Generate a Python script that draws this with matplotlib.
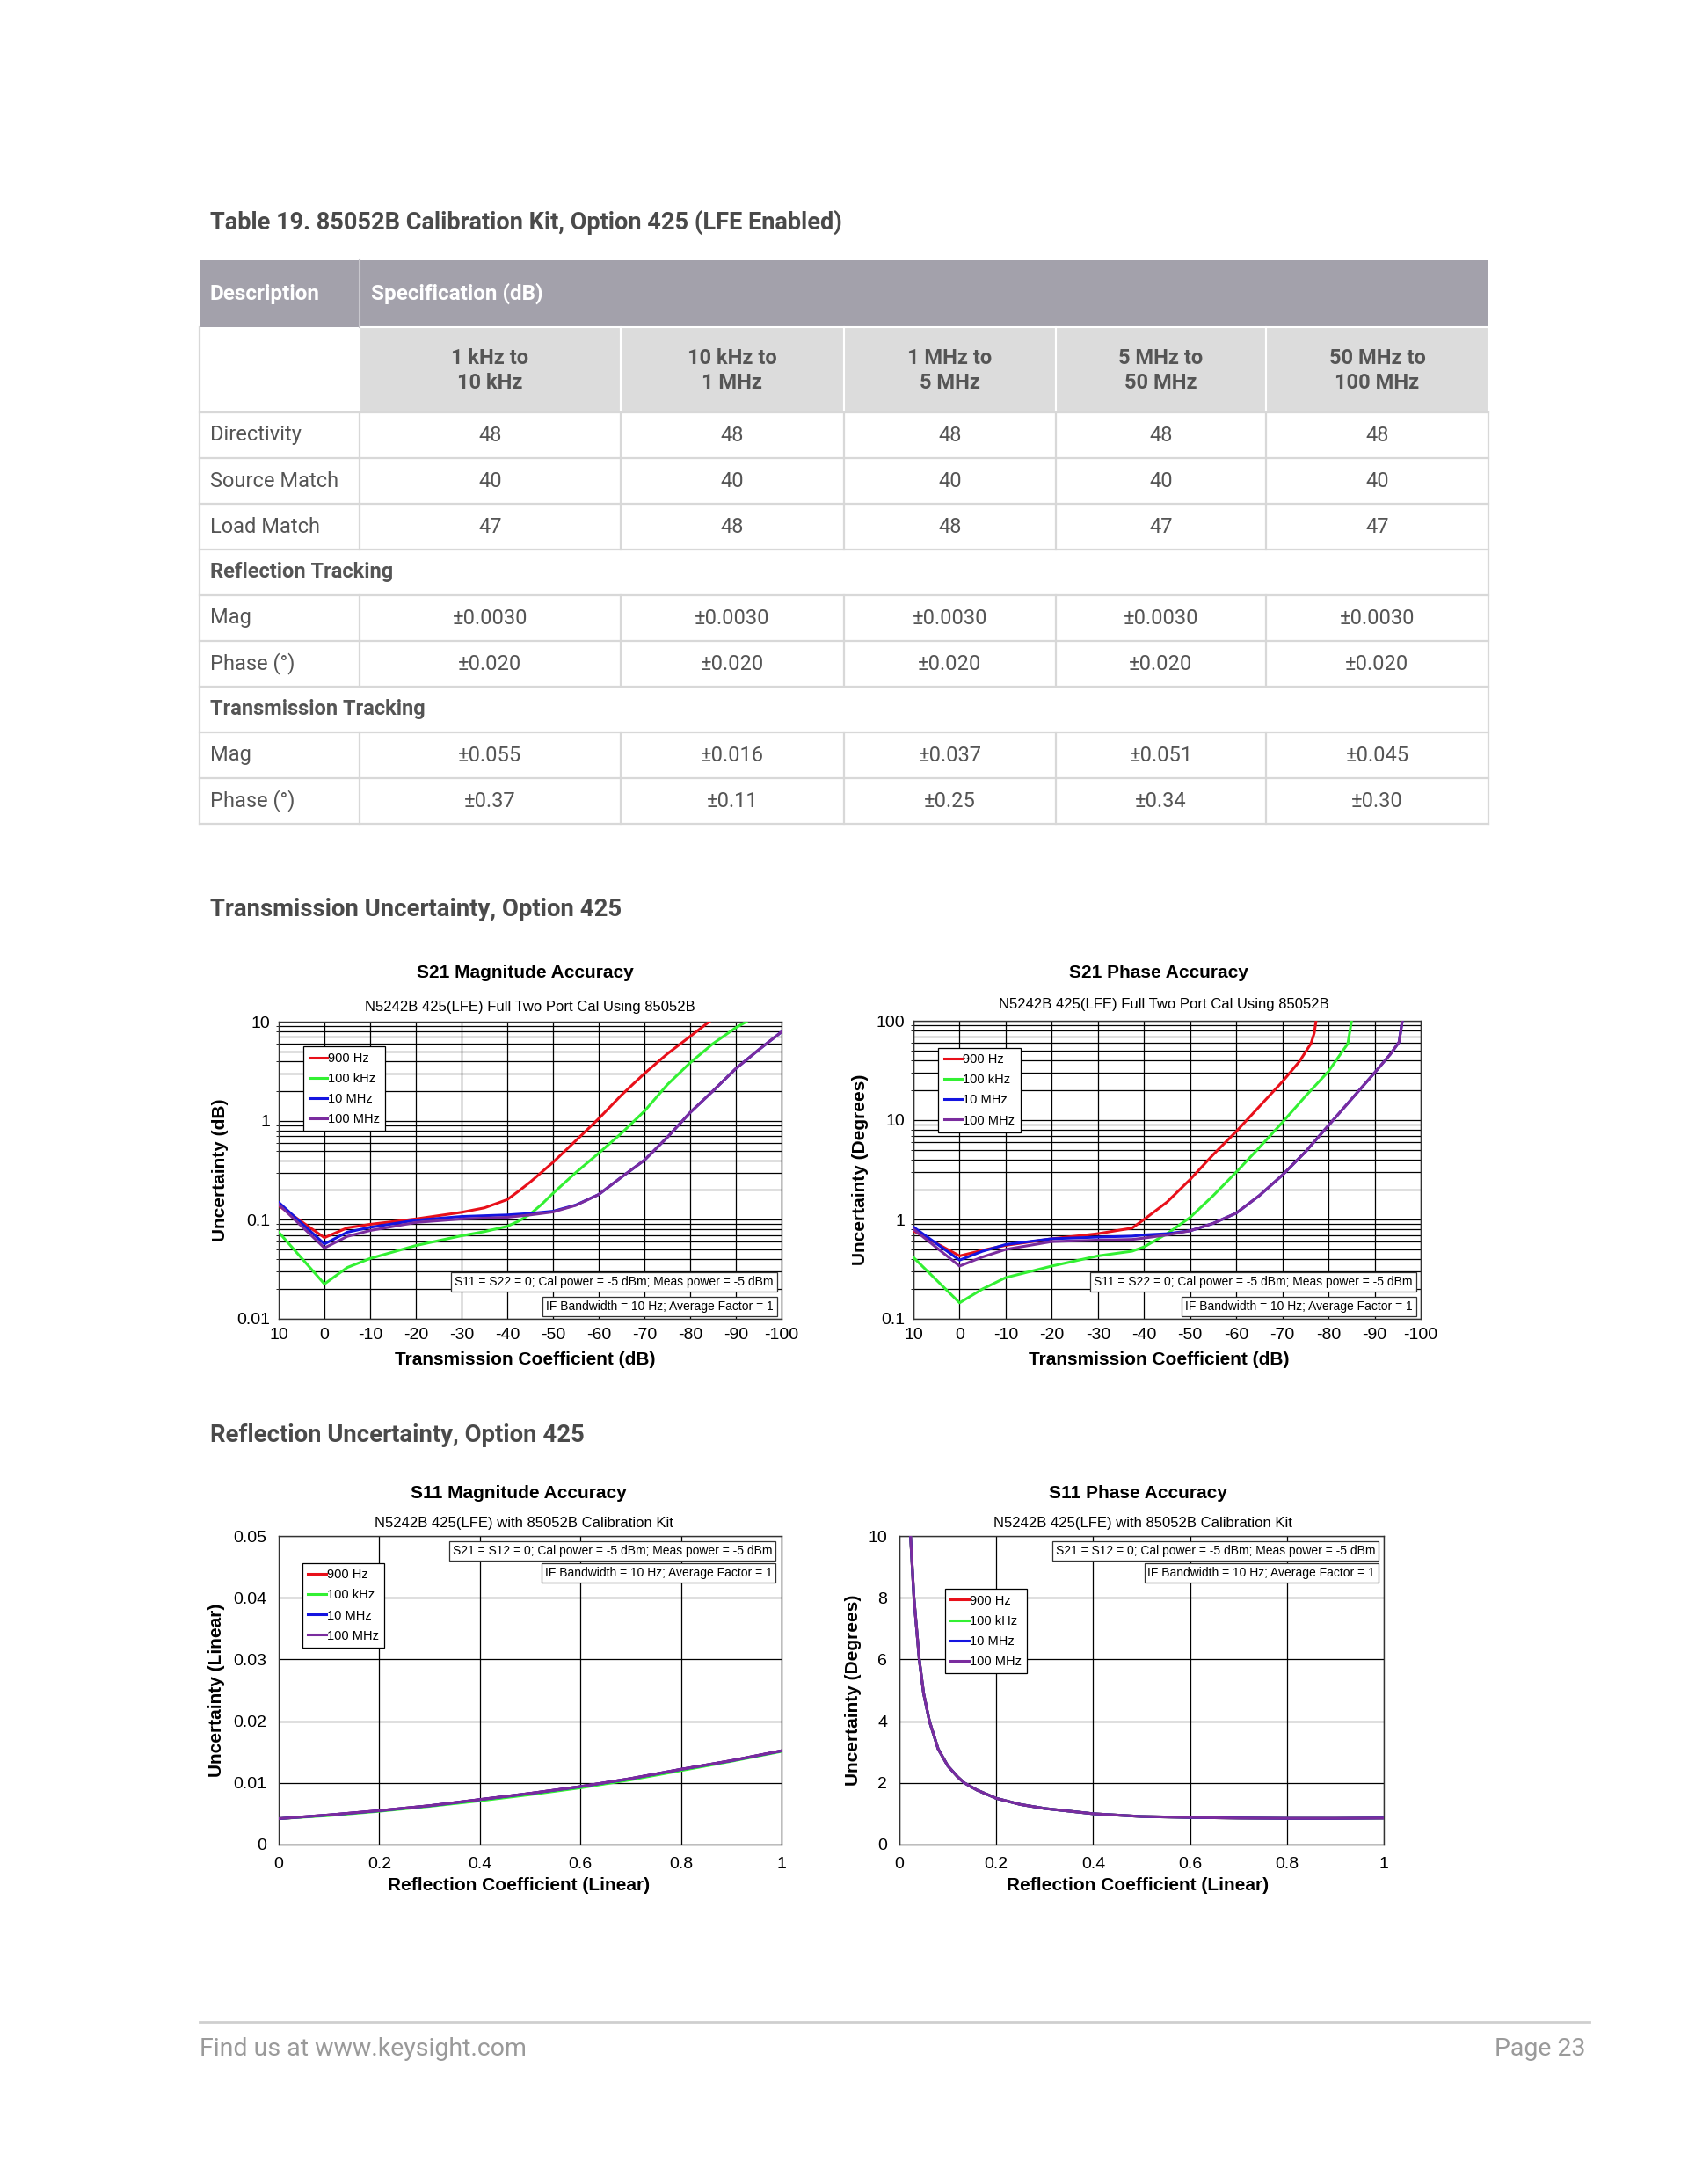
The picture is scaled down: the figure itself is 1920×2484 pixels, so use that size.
import matplotlib
matplotlib.use('Agg')
import matplotlib.pyplot as plt
import matplotlib.patches as mp
from matplotlib.ticker import NullFormatter

W, H = 1920, 2484
PAGE_FONT = ['Roboto', 'DejaVu Sans']
CHART_FONT = ['Liberation Sans', 'DejaVu Sans']

TXT = '#555555'
HDR_BG = '#A3A1AB'
SUB_BG = '#DCDCDC'
LINE = '#D8D8D8'

# ---- table data ---------------------------------------------------------
TABLE_TITLE = 'Table 19. 85052B Calibration Kit, Option 425 (LFE Enabled)'
BANDS = ['1 kHz to\n10 kHz', '10 kHz to\n1 MHz', '1 MHz to\n5 MHz',
         '5 MHz to\n50 MHz', '50 MHz to\n100 MHz']
ROW_NAMES = ['Directivity', 'Source Match', 'Load Match', 'Reflection Tracking',
             'Mag', 'Phase (°)', 'Transmission Tracking', 'Mag', 'Phase (°)']
DIRECTIVITY = ['48', '48', '48', '48', '48']
SOURCE_MATCH = ['40', '40', '40', '40', '40']
LOAD_MATCH = ['47', '48', '48', '47', '47']
REFL_MAG = ['±0.0030', '±0.0030', '±0.0030', '±0.0030', '±0.0030']
REFL_PHASE = ['±0.020', '±0.020', '±0.020', '±0.020', '±0.020']
TRAN_MAG = ['±0.055', '±0.016', '±0.037', '±0.051', '±0.045']
TRAN_PHASE = ['±0.37', '±0.11', '±0.25', '±0.34', '±0.30']
ROW_VALUES = [DIRECTIVITY, SOURCE_MATCH, LOAD_MATCH, None,
              REFL_MAG, REFL_PHASE, None, TRAN_MAG, TRAN_PHASE]

# ---- chart data ---------------------------------------------------------
SERIES = ['900 Hz', '100 kHz', '10 MHz', '100 MHz']
COLORS = ['#E8101A', '#33F033', '#1414E0', '#7A2C9E']

# S21 magnitude (dB)
S21M_RED_X = [10, 0, -5, -10, -20, -30, -35, -40, -42.5, -45, -50, -55, -60, -65, -70, -75, -80,
              -84.2]
S21M_RED_Y = [0.139, 0.066, 0.083, 0.090, 0.102, 0.119, 0.132, 0.160, 0.195, 0.24, 0.38, 0.63,
              1.05, 1.82, 3.0, 4.73, 7.1, 10]
S21M_GRN_X = [10, 0, -5, -10, -20, -30, -35, -40, -42.5, -45, -47.5, -50, -55, -60, -65, -70,
              -75, -80, -85, -90, -92.3]
S21M_GRN_Y = [0.075, 0.0225, 0.033, 0.0407, 0.055, 0.069, 0.076, 0.086, 0.097, 0.114, 0.143,
              0.185, 0.30, 0.47, 0.75, 1.25, 2.31, 3.85, 6.0, 8.7, 10]
S21M_BLU_X = [10, 0, -5, -10, -20, -30, -40, -45, -50, -55, -60, -65, -70, -75, -80, -85, -90,
              -95, -100]
S21M_BLU_Y = [0.150, 0.057, 0.075, 0.084, 0.099, 0.108, 0.112, 0.116, 0.122, 0.141, 0.18, 0.27,
              0.40, 0.68, 1.21, 2.0, 3.36, 5.2, 7.9]
S21M_PUR_X = [10, 0, -5, -10, -20, -30, -40, -45, -50, -55, -60, -65, -70, -75, -80, -85, -90,
              -95, -100]
S21M_PUR_Y = [0.143, 0.052, 0.068, 0.078, 0.094, 0.102, 0.106, 0.112, 0.120, 0.140, 0.18, 0.27,
              0.40, 0.68, 1.21, 2.0, 3.36, 5.2, 7.9]

# S21 phase (degrees)
S21P_RED_X = [10, 0, -5, -10, -20, -30, -37.4, -40, -45, -50, -55, -60, -65, -70, -73.7, -76.2,
              -76.9, -77.3]
S21P_RED_Y = [0.77, 0.43, 0.49, 0.55, 0.64, 0.72, 0.82, 1.0, 1.5, 2.53, 4.5, 7.7, 13.7, 24.4,
              39, 59, 75, 100]
S21P_GRN_X = [10, 0, -5, -10, -20, -30, -37.4, -40, -45, -50, -55, -60, -65, -70, -75, -80,
              -84.2, -85]
S21P_GRN_Y = [0.415, 0.145, 0.20, 0.26, 0.34, 0.43, 0.48, 0.53, 0.72, 1.05, 1.74, 3.0, 5.3,
              9.5, 17.4, 31, 59, 100]
S21P_BLU_X = [10, 0, -5, -10, -20, -30, -37.4, -40, -45, -50, -55, -60, -65, -70, -75, -80, -85,
              -90, -93.4, -95.3, -96]
S21P_BLU_Y = [0.84, 0.39, 0.48, 0.56, 0.64, 0.665, 0.68, 0.70, 0.72, 0.77, 0.915, 1.16, 1.74,
              2.8, 4.8, 8.85, 16.3, 30, 46, 61, 100]
S21P_PUR_X = [10, 0, -5, -10, -20, -30, -37.4, -40, -45, -50, -55, -60, -65, -70, -75, -80, -85,
              -90, -93.4, -95.3, -96]
S21P_PUR_Y = [0.80, 0.34, 0.42, 0.50, 0.60, 0.62, 0.63, 0.65, 0.70, 0.77, 0.915, 1.16, 1.74,
              2.8, 4.8, 8.85, 16.3, 30, 46, 61, 100]

# S11 magnitude (linear)
S11M_X = [0, 0.1, 0.2, 0.3, 0.4, 0.5, 0.6, 0.7, 0.8, 0.9, 1.0]
S11M_RED_Y = [0.0042, 0.0048, 0.0055, 0.0063, 0.0073, 0.0083, 0.0094, 0.0107, 0.0122, 0.0136, 0.0152]
S11M_GRN_Y = [0.0042, 0.0047, 0.0054, 0.0062, 0.0071, 0.0081, 0.0092, 0.0105, 0.0120, 0.0135, 0.0151]
S11M_BLU_Y = [0.0042, 0.0048, 0.0055, 0.0063, 0.0073, 0.0083, 0.0094, 0.0107, 0.0122, 0.0136, 0.0152]
S11M_PUR_Y = [0.0042, 0.0048, 0.0055, 0.0063, 0.0073, 0.0083, 0.0094, 0.0107, 0.0122, 0.0136, 0.0152]

# S11 phase (degrees)
S11P_X = [0.023, 0.03, 0.041, 0.05, 0.062, 0.08, 0.1, 0.12, 0.134, 0.16, 0.2,
          0.25, 0.3, 0.4, 0.5, 0.6, 0.7, 0.8, 0.9, 1.0]
S11P_Y = [10, 8, 6, 4.9, 4, 3.1, 2.55, 2.2, 2.0, 1.77, 1.5,
          1.3, 1.17, 1.0, 0.91, 0.88, 0.86, 0.85, 0.85, 0.86]

NOTE_S21 = ['S11 = S22 = 0; Cal power = -5 dBm; Meas power = -5 dBm',
            'IF Bandwidth = 10 Hz; Average Factor = 1']
NOTE_S11 = ['S21 = S12 = 0; Cal power = -5 dBm; Meas power = -5 dBm',
            'IF Bandwidth = 10 Hz; Average Factor = 1']

fig = plt.figure(figsize=(W / 100, H / 100), dpi=100)
fig.patch.set_facecolor('white')

pg = fig.add_axes([0, 0, 1, 1])
pg.set_xlim(0, W)
pg.set_ylim(H, 0)
pg.axis('off')

# ---- table --------------------------------------------------------------
COL_X = [227, 409, 706, 960, 1201, 1440, 1693]
ROW_Y = [296, 372, 469, 521, 573, 625, 677, 729, 781, 833, 885, 937]
TX = 239

pg.text(TX, 253, TABLE_TITLE, fontsize=19.5, fontweight='bold', color='#4A4A4A',
        va='center', ha='left', family=PAGE_FONT)

pg.add_patch(mp.Rectangle((COL_X[0], ROW_Y[0]), COL_X[-1] - COL_X[0], ROW_Y[1] - ROW_Y[0],
                          fc=HDR_BG, ec='none'))
hy = (ROW_Y[0] + ROW_Y[1]) / 2
pg.text(TX, hy, 'Description', color='white', fontsize=17.5, fontweight='bold',
        va='center', family=PAGE_FONT)
pg.text(422, hy, 'Specification (dB)', color='white', fontsize=17.5, fontweight='bold',
        va='center', family=PAGE_FONT)
pg.plot([COL_X[1], COL_X[1]], [ROW_Y[0], ROW_Y[1]], color='#C8C7CD', lw=1.5)

for i, band in enumerate(BANDS):
    pg.add_patch(mp.Rectangle((COL_X[i + 1], ROW_Y[1]), COL_X[i + 2] - COL_X[i + 1],
                              ROW_Y[2] - ROW_Y[1], fc=SUB_BG, ec='white', lw=1.5))
    pg.text((COL_X[i + 1] + COL_X[i + 2]) / 2, (ROW_Y[1] + ROW_Y[2]) / 2 + 1, band,
            ha='center', va='center', fontsize=17, fontweight='bold', color=TXT,
            linespacing=1.3, family=PAGE_FONT)

for r, name in enumerate(ROW_NAMES):
    y0, y1 = ROW_Y[r + 2], ROW_Y[r + 3]
    yc = (y0 + y1) / 2
    vals = ROW_VALUES[r]
    pg.plot([COL_X[0], COL_X[-1]], [y1, y1], color=LINE, lw=1.6)
    if vals is None:
        pg.text(TX, yc, name, fontsize=17, fontweight='bold', color=TXT,
                va='center', family=PAGE_FONT)
        continue
    pg.text(TX, yc, name, fontsize=17, color=TXT, va='center', family=PAGE_FONT)
    for c, v in enumerate(vals):
        pg.text((COL_X[c + 1] + COL_X[c + 2]) / 2, yc, v, fontsize=17, color=TXT,
                ha='center', va='center', family=PAGE_FONT)
    for cx in COL_X[1:-1]:
        pg.plot([cx, cx], [y0, y1], color=LINE, lw=1.6)
pg.plot([COL_X[0], COL_X[0]], [ROW_Y[1], ROW_Y[-1]], color=LINE, lw=1.6)
pg.plot([COL_X[-1], COL_X[-1]], [ROW_Y[2], ROW_Y[-1]], color=LINE, lw=1.6)
pg.plot([COL_X[0], COL_X[-1]], [ROW_Y[2], ROW_Y[2]], color=LINE, lw=1.6)

# ---- section headings + footer ------------------------------------------
pg.text(TX, 1035, 'Transmission Uncertainty, Option 425', fontsize=19.8, fontweight='bold',
        color='#4A4A4A', va='center', family=PAGE_FONT)
pg.text(TX, 1633, 'Reflection Uncertainty, Option 425', fontsize=19.8, fontweight='bold',
        color='#4A4A4A', va='center', family=PAGE_FONT)
pg.plot([227, 1808], [2300, 2300], color='#CFCFCF', lw=2)
pg.text(227, 2331, 'Find us at www.keysight.com', fontsize=20.5, color='#9A9A9A',
        va='center', family=PAGE_FONT)
pg.text(1803, 2331, 'Page 23', fontsize=20.5, color='#9A9A9A', va='center', ha='right',
        family=PAGE_FONT)


def fax(x0, y0, x1, y1):
    return fig.add_axes([x0 / W, 1 - y1 / H, (x1 - x0) / W, (y1 - y0) / H])


def finish(ax, title, sub, xlabel, ylabel, tx, ty, sy, lx, ylx, legxy, notes, note_y, note_r):
    fig.text(tx / W, 1 - ty / H, title, ha='center', va='center', fontsize=15,
             fontweight='bold', family=CHART_FONT)
    fig.text(tx / W + 0.003, 1 - sy / H, sub, ha='center', va='center', fontsize=12,
             family=CHART_FONT)
    fig.text(tx / W, 1 - lx / H, xlabel, ha='center', va='center', fontsize=15,
             fontweight='bold', family=CHART_FONT)
    pos = ax.get_position()
    fig.text(ylx / W, pos.y0 + pos.height / 2, ylabel, ha='center', va='center',
             rotation=90, fontsize=15, fontweight='bold', family=CHART_FONT)
    ax.tick_params(length=0, labelsize=14, pad=7)
    for lab in ax.get_xticklabels() + ax.get_yticklabels():
        lab.set_family(CHART_FONT)
    leg = ax.legend(loc='upper left', bbox_to_anchor=legxy, frameon=True,
                    fancybox=False, framealpha=1, edgecolor='black', handlelength=1.4,
                    handletextpad=0.05, borderpad=0.45, labelspacing=0.62,
                    borderaxespad=0, prop={'family': CHART_FONT, 'size': 10.5})
    leg.get_frame().set_linewidth(0.9)
    for t, yy in zip(notes, note_y):
        ax.text(note_r, yy, t, transform=ax.transAxes, ha='right', va='center',
                fontsize=10, family=CHART_FONT, zorder=6,
                bbox=dict(fc='white', ec='#333333', lw=0.9, boxstyle='square,pad=0.28'))
    for s in ax.spines.values():
        s.set_linewidth(1.0)
        s.set_color('#333333')


def log_grid(ax, lo, hi):
    ax.set_yscale('log')
    ax.set_ylim(lo, hi)
    ax.yaxis.set_minor_formatter(NullFormatter())
    ax.grid(True, which='both', axis='y', color='black', lw=0.9)
    ax.grid(True, which='major', axis='x', color='black', lw=0.9)
    ax.set_xlim(10, -100)
    ax.set_xticks(list(range(10, -101, -10)))
    ax.set_xticklabels([str(v) for v in range(10, -101, -10)])


# ---- S21 magnitude -----------------------------------------------------
ax1 = fax(317, 1162, 889, 1500)
for xs, ys, c, lab in zip([S21M_RED_X, S21M_GRN_X, S21M_BLU_X, S21M_PUR_X],
                          [S21M_RED_Y, S21M_GRN_Y, S21M_BLU_Y, S21M_PUR_Y], COLORS, SERIES):
    ax1.plot(xs, ys, color=c, lw=2.2, label=lab, zorder=3)
log_grid(ax1, 0.01, 10)
ax1.set_yticks([0.01, 0.1, 1, 10])
ax1.set_yticklabels(['0.01', '0.1', '1', '10'])
finish(ax1, 'S21 Magnitude Accuracy', 'N5242B 425(LFE) Full Two Port Cal Using 85052B',
       'Transmission Coefficient (dB)', 'Uncertainty (dB)', 597, 1107, 1145, 1546, 250,
       (0.049, 0.917), NOTE_S21, [0.124, 0.041], 0.984)

# ---- S21 phase ---------------------------------------------------------
ax2 = fax(1039, 1161, 1616, 1500)
for xs, ys, c, lab in zip([S21P_RED_X, S21P_GRN_X, S21P_BLU_X, S21P_PUR_X],
                          [S21P_RED_Y, S21P_GRN_Y, S21P_BLU_Y, S21P_PUR_Y], COLORS, SERIES):
    ax2.plot(xs, ys, color=c, lw=2.2, label=lab, zorder=3)
log_grid(ax2, 0.1, 100)
ax2.set_yticks([0.1, 1, 10, 100])
ax2.set_yticklabels(['0.1', '1', '10', '100'])
finish(ax2, 'S21 Phase Accuracy', 'N5242B 425(LFE) Full Two Port Cal Using 85052B',
       'Transmission Coefficient (dB)', 'Uncertainty (Degrees)', 1318, 1107, 1143, 1546, 978,
       (0.049, 0.909), NOTE_S21, [0.124, 0.041], 0.984)

# ---- S11 magnitude -----------------------------------------------------
ax3 = fax(317, 1747, 889, 2098)
for ys, c, lab in zip([S11M_RED_Y, S11M_GRN_Y, S11M_BLU_Y, S11M_PUR_Y], COLORS, SERIES):
    ax3.plot(S11M_X, ys, color=c, lw=2.2, label=lab, zorder=3)
ax3.set_xlim(0, 1)
ax3.set_ylim(0, 0.05)
ax3.set_xticks([0, 0.2, 0.4, 0.6, 0.8, 1])
ax3.set_xticklabels(['0', '0.2', '0.4', '0.6', '0.8', '1'])
ax3.set_yticks([0, 0.01, 0.02, 0.03, 0.04, 0.05])
ax3.set_yticklabels(['0', '0.01', '0.02', '0.03', '0.04', '0.05'])
ax3.grid(True, color='black', lw=0.9)
finish(ax3, 'S11 Magnitude Accuracy', 'N5242B 425(LFE) with 85052B Calibration Kit',
       'Reflection Coefficient (Linear)', 'Uncertainty (Linear)', 590, 1699, 1733, 2145, 247,
       (0.047, 0.912), NOTE_S11, [0.951, 0.880], 0.981)
ax3.tick_params(pad=10)

# ---- S11 phase ---------------------------------------------------------
ax4 = fax(1023, 1747, 1574, 2098)
for c, lab in zip(COLORS, SERIES):
    ax4.plot(S11P_X, S11P_Y, color=c, lw=2.2, label=lab, zorder=3)
ax4.set_xlim(0, 1)
ax4.set_ylim(0, 10)
ax4.set_xticks([0, 0.2, 0.4, 0.6, 0.8, 1])
ax4.set_xticklabels(['0', '0.2', '0.4', '0.6', '0.8', '1'])
ax4.set_yticks([0, 2, 4, 6, 8, 10])
ax4.set_yticklabels(['0', '2', '4', '6', '8', '10'])
ax4.grid(True, color='black', lw=0.9)
finish(ax4, 'S11 Phase Accuracy', 'N5242B 425(LFE) with 85052B Calibration Kit',
       'Reflection Coefficient (Linear)', 'Uncertainty (Degrees)', 1294, 1698, 1733, 2145, 970,
       (0.094, 0.829), NOTE_S11, [0.951, 0.880], 0.982)
ax4.tick_params(pad=10)

fig.savefig('out.png', dpi=100, facecolor='white')
plt.close()
